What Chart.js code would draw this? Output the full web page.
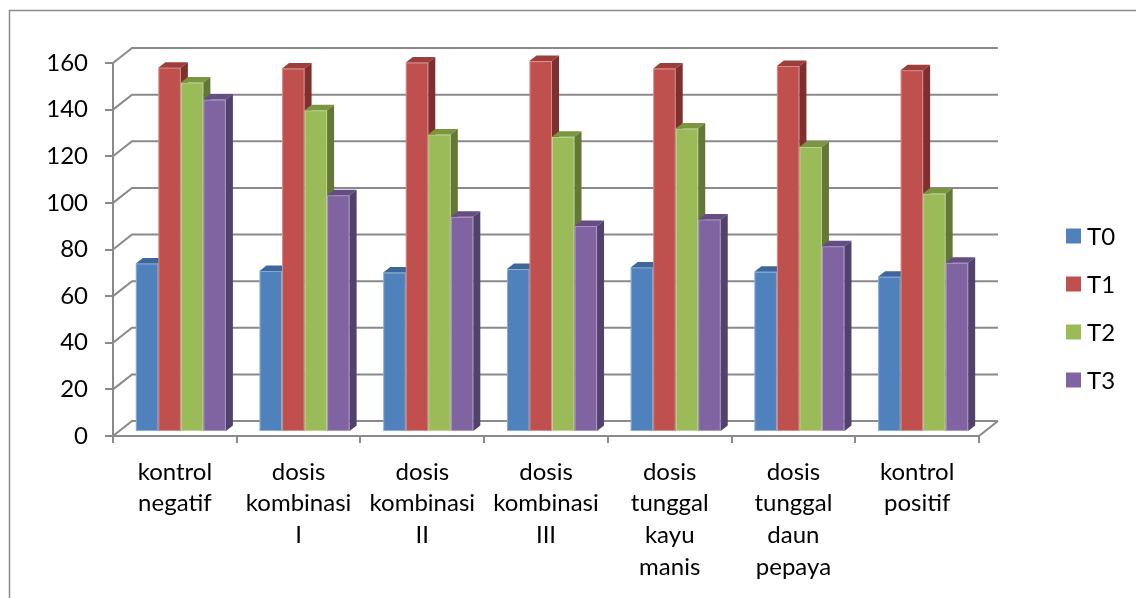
<!DOCTYPE html>
<html>
<head>
<meta charset="utf-8">
<script src="https://cdn.jsdelivr.net/npm/chart.js@4.4.1/dist/chart.umd.min.js"></script>
<style>
  html, body { margin: 0; padding: 0; background: #fff; }
  #wrap { position: relative; width: 1136px; height: 598px; }
  canvas { display: block; }
</style>
</head>
<body>
<div id="wrap"><canvas id="chart" width="1136" height="598"></canvas></div>
<script>
// Category labels (one array entry per text line)
const categories = [
  ['kontrol', 'negatif'],
  ['dosis', 'kombinasi', 'I'],
  ['dosis', 'kombinasi', 'II'],
  ['dosis', 'kombinasi', 'III'],
  ['dosis', 'tunggal', 'kayu', 'manis'],
  ['dosis', 'tunggal', 'daun', 'pepaya'],
  ['kontrol', 'positif']
];

// Series
const seriesNames = ['T0', 'T1', 'T2', 'T3'];
const t0 = [72.3, 69.1, 68.4, 69.9, 70.6, 68.7, 66.6];
const t1 = [156.3, 155.9, 158.5, 159.1, 155.9, 157.0, 155.2];
const t2 = [149.9, 138.0, 127.6, 126.6, 130.2, 122.3, 102.3];
const t3 = [142.6, 101.6, 92.3, 88.4, 91.2, 79.7, 72.6];

// Value axis
const yMin = 0;
const yMax = 160;
const yStep = 20;

// Face colours: front, top, side
const frontColors = ['#4F81BD', '#C0504D', '#9BBB59', '#8064A2'];
const topColors   = ['#3D679A', '#9E3D3A', '#7A963F', '#654D84'];
const sideColors  = ['#335682', '#7F2F2D', '#627834', '#52406D'];

const GRID = '#8a8a8a';
const FONT = 'Lato';

// Oblique projection offsets for the back wall, bar placement and bar depth
const WALL = { dx: 19, dy: -15 };
const SHIFT = { dx: 6, dy: -4 };
const DEPTH = { dx: 7, dy: -5.5 };

const series = [t0, t1, t2, t3];

const poly = (ctx, pts, fill) => {
  ctx.beginPath();
  ctx.moveTo(pts[0][0], pts[0][1]);
  for (let i = 1; i < pts.length; i++) ctx.lineTo(pts[i][0], pts[i][1]);
  ctx.closePath();
  ctx.fillStyle = fill;
  ctx.fill();
};

const columns3d = {
  id: 'columns3d',
  beforeDraw(chart) {
    const ctx = chart.ctx;
    ctx.save();
    ctx.fillStyle = '#fff';
    ctx.fillRect(0, 0, chart.width, chart.height);
    // outer frame
    ctx.strokeStyle = '#8c8c8c';
    ctx.lineWidth = 1.5;
    ctx.strokeRect(9.5, 10.5, chart.width + 20, chart.height + 20);
    ctx.restore();
  },
  beforeDatasetsDraw(chart) {
    const { ctx, chartArea: a, scales: { x, y } } = chart;
    ctx.save();
    // back wall gridlines with the left wall diagonals
    ctx.strokeStyle = GRID;
    ctx.lineWidth = 2;
    y.ticks.forEach(t => {
      const py = y.getPixelForValue(t.value);
      ctx.beginPath();
      ctx.moveTo(a.left, py);
      ctx.lineTo(a.left + WALL.dx, py + WALL.dy);
      ctx.lineTo(a.right + WALL.dx, py + WALL.dy);
      ctx.stroke();
    });
    // right edge of the floor
    const p0 = y.getPixelForValue(yMin);
    ctx.beginPath();
    ctx.moveTo(a.right, p0);
    ctx.lineTo(a.right + WALL.dx, p0 + WALL.dy);
    ctx.stroke();

    // columns, drawn cluster by cluster from left to right
    const metas = chart.data.datasets.map((_, d) => chart.getDatasetMeta(d));
    for (let i = 0; i < categories.length; i++) {
      metas.forEach((meta, d) => {
        const el = meta.data[i];
        const p = el.getProps(['x', 'y', 'base', 'width'], true);
        const l = p.x - p.width / 2 + SHIFT.dx;
        const r = l + p.width;
        const t = p.y + SHIFT.dy;
        const b = p.base + SHIFT.dy;
        // front face
        ctx.fillStyle = frontColors[d];
        ctx.fillRect(l, t, p.width, b - t);
        ctx.strokeStyle = 'rgba(255,255,255,0.35)';
        ctx.lineWidth = 1;
        ctx.strokeRect(l + 0.5, t + 0.5, p.width - 1, b - t - 1);
        // top face
        poly(ctx, [[l, t], [r, t], [r + DEPTH.dx, t + DEPTH.dy], [l + DEPTH.dx, t + DEPTH.dy]], topColors[d]);
        // side face
        poly(ctx, [[r, t], [r + DEPTH.dx, t + DEPTH.dy], [r + DEPTH.dx, b + DEPTH.dy], [r, b]], sideColors[d]);
      });
    }
    ctx.restore();
    return false;
  },
  afterDraw(chart) {
    // legend on the right
    const ctx = chart.ctx;
    ctx.save();
    ctx.font = '24px ' + FONT;
    ctx.textBaseline = 'middle';
    ctx.textAlign = 'left';
    const y0 = 236, gap = 48;
    seriesNames.forEach((name, i) => {
      const cy = y0 + i * gap;
      ctx.fillStyle = frontColors[i];
      ctx.fillRect(1066, cy - 7.5, 15, 15);
      ctx.fillStyle = '#000';
      ctx.fillText(name, 1087, cy + 1);
    });
    ctx.restore();
  }
};

new Chart(document.getElementById('chart'), {
  type: 'bar',
  data: {
    labels: categories,
    datasets: seriesNames.map((name, i) => ({
      label: name,
      data: series[i],
      backgroundColor: frontColors[i],
      categoryPercentage: 0.728,
      barPercentage: 1.0
    }))
  },
  options: {
    responsive: false,
    animation: false,
    events: [],
    layout: { padding: { top: 63, right: 157, left: 0, bottom: 0 } },
    plugins: {
      legend: { display: false },
      tooltip: { enabled: false }
    },
    scales: {
      x: {
        grid: {
          offset: true,
          drawOnChartArea: false,
          drawTicks: true,
          tickLength: 7,
          color: GRID,
          lineWidth: 2
        },
        border: { display: true, color: GRID, width: 2 },
        ticks: {
          color: '#000',
          padding: 13,
          maxRotation: 0,
          autoSkip: false,
          font: { family: FONT, size: 24, lineHeight: 1.32 }
        },
        afterFit(s) { s.height = 162; }
      },
      y: {
        min: yMin,
        max: yMax,
        grid: {
          drawOnChartArea: false,
          drawTicks: true,
          tickLength: 8,
          color: GRID,
          lineWidth: 2
        },
        border: { display: true, color: GRID, width: 2 },
        ticks: {
          stepSize: yStep,
          color: '#000',
          padding: 17,
          font: { family: FONT, size: 24 }
        },
        afterFit(s) { s.width = 113; }
      }
    }
  },
  plugins: [columns3d]
});
</script>
</body>
</html>
